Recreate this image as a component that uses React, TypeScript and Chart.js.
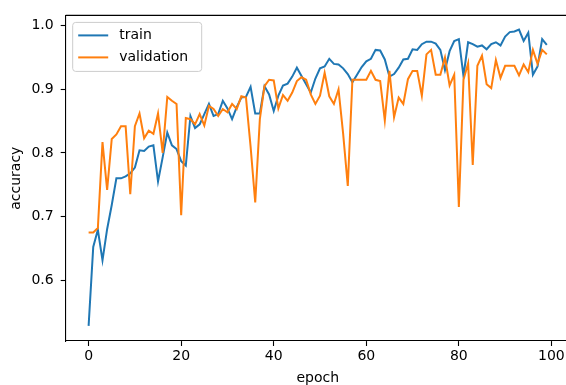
import React, { useEffect, useRef } from "react";
import { Chart, registerables } from "chart.js";

Chart.register(...registerables);

// ---- data ----
const epochs = [
  0, 1, 2, 3, 4, 5, 6, 7, 8, 9, 10, 11, 12, 13, 14, 15, 16, 17, 18, 19,
  20, 21, 22, 23, 24, 25, 26, 27, 28, 29, 30, 31, 32, 33, 34, 35, 36, 37, 38, 39,
  40, 41, 42, 43, 44, 45, 46, 47, 48, 49, 50, 51, 52, 53, 54, 55, 56, 57, 58, 59,
  60, 61, 62, 63, 64, 65, 66, 67, 68, 69, 70, 71, 72, 73, 74, 75, 76, 77, 78, 79,
  80, 81, 82, 83, 84, 85, 86, 87, 88, 89, 90, 91, 92, 93, 94, 95, 96, 97, 98, 99,
];

const trainAcc = [
  0.528, 0.652, 0.679, 0.631, 0.68, 0.718, 0.76, 0.76, 0.763, 0.768,
  0.777, 0.804, 0.803, 0.81, 0.812, 0.755, 0.793, 0.832, 0.812, 0.806,
  0.787, 0.78, 0.858, 0.839, 0.845, 0.861, 0.877, 0.858, 0.861, 0.882,
  0.87, 0.853, 0.872, 0.887, 0.888, 0.904, 0.862, 0.862, 0.905, 0.892,
  0.866, 0.89, 0.906, 0.909, 0.92, 0.934, 0.921, 0.908, 0.895, 0.917,
  0.933, 0.936, 0.948, 0.94, 0.939, 0.933, 0.924, 0.911, 0.923, 0.935,
  0.944, 0.948, 0.962, 0.961, 0.947, 0.92, 0.924, 0.934, 0.947, 0.948,
  0.963, 0.962, 0.971, 0.975, 0.975, 0.972, 0.962, 0.93, 0.96, 0.976,
  0.979, 0.921, 0.974, 0.971, 0.967, 0.969, 0.963, 0.971, 0.974, 0.969,
  0.983, 0.99, 0.991, 0.994, 0.976, 0.989, 0.923, 0.936, 0.979, 0.97,
];

const valAcc = [
  0.675, 0.675, 0.682, 0.817, 0.742, 0.822, 0.829, 0.842, 0.842, 0.735,
  0.842, 0.862, 0.823, 0.835, 0.83, 0.862, 0.8, 0.888, 0.882, 0.877,
  0.702, 0.855, 0.853, 0.845, 0.861, 0.843, 0.874, 0.869, 0.858, 0.869,
  0.864, 0.877, 0.869, 0.889, 0.887, 0.81, 0.722, 0.853, 0.905, 0.915,
  0.914, 0.87, 0.891, 0.882, 0.895, 0.913, 0.919, 0.915, 0.892, 0.877,
  0.89, 0.926, 0.889, 0.877, 0.9, 0.83, 0.748, 0.915, 0.915, 0.915,
  0.915, 0.929, 0.915, 0.913, 0.851, 0.929, 0.856, 0.887, 0.877, 0.916,
  0.929, 0.929, 0.89, 0.955, 0.962, 0.923, 0.923, 0.95, 0.906, 0.923,
  0.715, 0.915, 0.941, 0.781, 0.937, 0.953, 0.908, 0.902, 0.946, 0.918,
  0.937, 0.937, 0.937, 0.922, 0.939, 0.927, 0.962, 0.94, 0.962, 0.955,
];

const seriesNames = ["train", "validation"];
const seriesColors = ["#1f77b4", "#ff7f0e"];
const xTickValues = [0, 20, 40, 60, 80, 100];
const xTickLabels = ["0", "20", "40", "60", "80", "100"];
const yTickValues = [0.6, 0.7, 0.8, 0.9, 1.0];
const yTickLabels = ["0.6", "0.7", "0.8", "0.9", "1.0"];
const xTitle = "epoch";
const yTitle = "accuracy";

// ---- layout ----
const CANVAS_W = 572;
const CANVAS_H = 390;
const AREA_LEFT = 65.7;
const AREA_TOP = 12.3;
const AREA_RIGHT = 569.7;
const AREA_BOTTOM = 341;
const FONT = { family: "'DejaVu Sans', sans-serif", size: 14 };

// top spine only (right spine lies outside the visible window)
const framePlugin = {
  id: "frame",
  afterDatasetsDraw(chart: any) {
    const { ctx, chartArea } = chart;
    ctx.save();
    ctx.strokeStyle = "#000";
    ctx.lineWidth = 1.1;
    ctx.beginPath();
    ctx.moveTo(chartArea.left, chartArea.top);
    ctx.lineTo(chartArea.right + 5, chartArea.top);
    ctx.stroke();
    ctx.restore();
  },
};

const legendPlugin = {
  id: "mplLegend",
  afterDraw(chart: any) {
    const { ctx, chartArea } = chart;
    const bx = chartArea.left + 7;
    const by = chartArea.top + 7;
    const bw = 129;
    const bh = 49;
    ctx.save();
    ctx.beginPath();
    const r = 3;
    ctx.moveTo(bx + r, by);
    ctx.lineTo(bx + bw - r, by);
    ctx.arcTo(bx + bw, by, bx + bw, by + r, r);
    ctx.lineTo(bx + bw, by + bh - r);
    ctx.arcTo(bx + bw, by + bh, bx + bw - r, by + bh, r);
    ctx.lineTo(bx + r, by + bh);
    ctx.arcTo(bx, by + bh, bx, by + bh - r, r);
    ctx.lineTo(bx, by + r);
    ctx.arcTo(bx, by, bx + r, by, r);
    ctx.closePath();
    ctx.fillStyle = "rgba(255,255,255,0.8)";
    ctx.fill();
    ctx.strokeStyle = "#cccccc";
    ctx.lineWidth = 1;
    ctx.stroke();
    ctx.font = `${FONT.size}px ${FONT.family}`;
    ctx.textBaseline = "middle";
    ctx.textAlign = "left";
    seriesNames.forEach((name, i) => {
      const y = by + 13 + i * 22;
      ctx.beginPath();
      ctx.strokeStyle = seriesColors[i];
      ctx.lineWidth = 2;
      ctx.moveTo(bx + 5.5, y);
      ctx.lineTo(bx + 35.5, y);
      ctx.stroke();
      ctx.fillStyle = "#000";
      ctx.fillText(name, bx + 46.5, y);
    });
    ctx.restore();
  },
};

export default function App() {
  const canvasRef = useRef<HTMLCanvasElement | null>(null);

  useEffect(() => {
    if (!canvasRef.current) return;
    const chart = new Chart(canvasRef.current, {
      type: "line",
      data: {
        labels: epochs,
        datasets: [
          {
            label: seriesNames[0],
            data: trainAcc,
            borderColor: seriesColors[0],
            backgroundColor: seriesColors[0],
            borderWidth: 2,
            pointRadius: 0,
            fill: false,
            tension: 0,
            order: 1,
          },
          {
            label: seriesNames[1],
            data: valAcc,
            borderColor: seriesColors[1],
            backgroundColor: seriesColors[1],
            borderWidth: 2,
            pointRadius: 0,
            fill: false,
            tension: 0,
            order: 0,
          },
        ],
      },
      options: {
        responsive: false,
        animation: false,
        devicePixelRatio: 1,
        events: [],
        layout: {
          padding: { top: AREA_TOP, right: CANVAS_W - AREA_RIGHT, left: 0, bottom: 0 },
        },
        plugins: {
          legend: { display: false },
          tooltip: { enabled: false },
          title: { display: false },
        },
        scales: {
          x: {
            type: "linear",
            min: -4.95,
            max: 103.95,
            afterBuildTicks: (s: any) => {
              s.ticks = xTickValues.map((v) => ({ value: v }));
            },
            afterFit: (s: any) => {
              s.height = CANVAS_H - AREA_BOTTOM;
            },
            ticks: {
              font: FONT,
              color: "#000",
              padding: 2,
              maxRotation: 0,
              autoSkip: false,
              callback: (_v: any, i: number) => xTickLabels[i],
            },
            grid: {
              display: true,
              drawOnChartArea: false,
              drawTicks: true,
              tickLength: 5,
              tickColor: "#000",
              tickWidth: 1.1,
            },
            border: { display: true, color: "#000", width: 1.1 },
            title: {
              display: true,
              text: xTitle,
              font: FONT,
              color: "#000",
              padding: { top: 0, bottom: 3 },
            },
          },
          y: {
            type: "linear",
            min: 0.5042,
            max: 1.01625,
            afterBuildTicks: (s: any) => {
              s.ticks = yTickValues.map((v) => ({ value: v }));
            },
            afterFit: (s: any) => {
              s.width = AREA_LEFT;
            },
            ticks: {
              font: FONT,
              color: "#000",
              padding: 7,
              autoSkip: false,
              callback: (_v: any, i: number) => yTickLabels[i],
            },
            grid: {
              display: true,
              drawOnChartArea: false,
              drawTicks: true,
              tickLength: 5,
              tickColor: "#000",
              tickWidth: 1.1,
            },
            border: { display: true, color: "#000", width: 1.1 },
            title: {
              display: true,
              text: yTitle,
              font: FONT,
              color: "#000",
              padding: { top: 7.6, bottom: 0 },
            },
          },
        },
      },
      plugins: [framePlugin, legendPlugin],
    } as any);
    return () => chart.destroy();
  }, []);

  return (
    <div
      style={{
        position: "fixed",
        left: 0,
        top: 0,
        width: 566,
        height: 385,
        overflow: "hidden",
        background: "#fff",
      }}
    >
      <canvas
        ref={canvasRef}
        width={CANVAS_W}
        height={CANVAS_H}
        style={{ display: "block", width: CANVAS_W, height: CANVAS_H }}
      />
    </div>
  );
}
